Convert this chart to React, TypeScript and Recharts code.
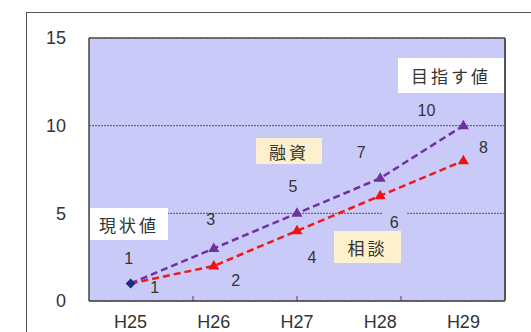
import { LineChart, Line, XAxis, YAxis, CartesianGrid, LabelList, ReferenceLine } from 'recharts'

const categories = ['H25', 'H26', 'H27', 'H28', 'H29']
const current = [1, null, null, null, null]
const loans = [1, 3, 5, 7, 10]
const consults = [1, 2, 4, 6, 8]
const yTicks = [0, 5, 10, 15]

// label offsets from the point
const loanOffsets = [[-2, -25], [-3, -29], [-4, -27], [-19, -26], [-37, -15]]
const consultOffsets = [[24, 4], [22, 15], [15, 27], [14, 27], [20, -13]]

const data = categories.map((name, i) => ({
  name,
  current: current[i],
  loans: loans[i],
  consults: consults[i],
}))

const PLOT_BG = '#cacaf8'
const FONT = '"Liberation Sans", Arial, sans-serif'
const JP = '"Noto Sans CJK JP", sans-serif'

const noTick = () => <g />

function triangle(color: string) {
  return (props: any) => {
    const { cx, cy, index } = props
    if (index === 0 || cx == null) return <g key={`t${index}`} />
    return (
      <polygon
        key={`t${index}`}
        points={`${cx},${cy - 6} ${cx + 5.5},${cy + 3.5} ${cx - 5.5},${cy + 3.5}`}
        fill={color}
      />
    )
  }
}

function diamond(props: any) {
  const { cx, cy, index } = props
  if (cx == null || cy == null) return <g key={`d${index}`} />
  return <polygon key={`d${index}`} points={`${cx},${cy - 5} ${cx + 5},${cy} ${cx},${cy + 5} ${cx - 5},${cy}`} fill="#1c2c80" />
}

function offsetLabel(offsets: number[][], bgIndex = -1) {
  return (props: any) => {
    const { x, y, value, index } = props
    const [dx, dy] = offsets[index]
    return (
      <g key={`l${index}`}>
        {index === bgIndex && <rect x={x + dx - 12} y={y + dy - 11} width={25} height={22} fill={PLOT_BG} />}
        <text x={x + dx} y={y + dy} textAnchor="middle" dominantBaseline="central" fontSize={16} fill="#333" fontFamily={FONT}>
          {value}
        </text>
      </g>
    )
  }
}

const boxStyle = {
  position: 'absolute' as const,
  display: 'flex',
  alignItems: 'center',
  justifyContent: 'center',
  fontFamily: JP,
  fontSize: 17,
  letterSpacing: 3,
  color: '#333',
}

export default function App() {
  return (
    <div style={{ position: 'absolute', left: 0, top: 0, width: 531, height: 332, overflow: 'hidden', background: '#fff' }}>
      <div style={{ position: 'absolute', left: 26, top: 12, width: 600, height: 400, border: '1px solid #555' }} />
      <div style={{ position: 'absolute', left: 0, top: 0 }}>
        <LineChart width={531} height={332} data={data} margin={{ top: 38, right: 26, left: 49, bottom: 0 }}>
          <CartesianGrid vertical={false} fill={PLOT_BG} stroke="#555" strokeDasharray="2 1" />
          {/* short upward ticks between the categories */}
          <XAxis
            xAxisId="ticks"
            type="number"
            domain={[0, 5]}
            ticks={[1, 2, 3, 4]}
            tick={noTick}
            axisLine={false}
            tickLine={{ stroke: '#444' }}
            tickSize={5}
            mirror
            height={1}
          />
          <XAxis
            dataKey="name"
            scale="band"
            axisLine={{ stroke: '#444', strokeWidth: 1.5 }}
            tickLine={false}
            height={31}
            tickMargin={8}
            tick={{ fill: '#333', fontSize: 18, fontFamily: FONT }}
          />
          <YAxis
            domain={[0, 15]}
            ticks={yTicks}
            width={40}
            axisLine={{ stroke: '#444', strokeWidth: 1.5 }}
            tickLine={false}
            tickMargin={17}
            tick={{ fill: '#333', fontSize: 18, fontFamily: FONT }}
          />
          <ReferenceLine y={15} stroke="#555" strokeWidth={1.5} />
          <Line
            dataKey="loans"
            stroke="#7030a0"
            strokeWidth={2.5}
            strokeDasharray="7 4"
            dot={triangle('#7030a0')}
            isAnimationActive={false}
          >
            <LabelList dataKey="loans" content={offsetLabel(loanOffsets)} />
          </Line>
          <Line
            dataKey="consults"
            stroke="#f01818"
            strokeWidth={2.5}
            strokeDasharray="7 4"
            dot={triangle('#f01010')}
            isAnimationActive={false}
          >
            <LabelList dataKey="consults" content={offsetLabel(consultOffsets, 3)} />
          </Line>
          <Line dataKey="current" stroke="none" dot={diamond} isAnimationActive={false} />
        </LineChart>
      </div>
      {/* right edge of the plot frame */}
      <div style={{ position: 'absolute', left: 504, top: 38, width: 2, height: 262, background: '#555' }} />
      <div style={{ ...boxStyle, left: 90, top: 208, width: 78, height: 32, background: '#fff' }}>現状値</div>
      <div style={{ ...boxStyle, left: 256, top: 138, width: 66, height: 26, background: '#fcf1cc' }}>融資</div>
      <div style={{ ...boxStyle, left: 398, top: 58, width: 106, height: 35, background: '#fff' }}>目指す値</div>
      <div style={{ ...boxStyle, left: 334, top: 231, width: 67, height: 32, background: '#fcf1cc' }}>相談</div>
    </div>
  )
}
